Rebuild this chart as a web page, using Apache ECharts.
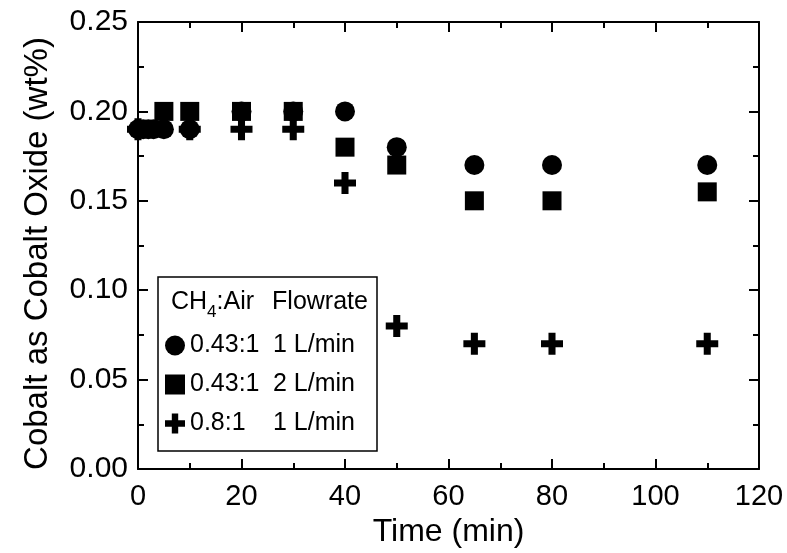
<!DOCTYPE html>
<html>
<head>
<meta charset="utf-8">
<script src="https://cdn.jsdelivr.net/npm/echarts@6/dist/echarts.min.js"></script>
<style>
  html, body { margin: 0; padding: 0; background: #fff; }
  #chart { width: 787px; height: 553px; }
</style>
</head>
<body>
<div id="chart"></div>
<script>
// data
const xTicks = [0, 20, 40, 60, 80, 100, 120];
const yTicks = ['0.00', '0.05', '0.10', '0.15', '0.20', '0.25'];

const timeLow = [0, 1, 2, 3, 5, 10, 20, 30, 40, 50, 65, 80, 110];
const cobaltLow = [0.19, 0.19, 0.19, 0.19, 0.19, 0.19, 0.20, 0.20, 0.20, 0.18, 0.17, 0.17, 0.17];

const timeHigh = [5, 10, 20, 30, 40, 50, 65, 80, 110];
const cobaltHigh = [0.20, 0.20, 0.20, 0.20, 0.18, 0.17, 0.15, 0.15, 0.155];

const timeRich = [0, 10, 20, 30, 40, 50, 65, 80, 110];
const cobaltRich = [0.19, 0.19, 0.19, 0.19, 0.16, 0.08, 0.07, 0.07, 0.07];

const seriesNames = ['0.43:1|1 L/min', '0.43:1|2 L/min', '0.8:1|1 L/min'];

const pair = (xs, ys) => xs.map((x, i) => [x, ys[i]]);

const font = 'Liberation Sans';
const crossPath = 'path://M3.4,0 H6.6 V3.4 H10 V6.6 H6.6 V10 H3.4 V6.6 H0 V3.4 H3.4 Z';

const chart = echarts.init(document.getElementById('chart'));

function axisBase(showLabel) {
    return {
        axisLine: { show: true, onZero: false, lineStyle: { color: '#000', width: 2 } },
        axisTick: { show: true, inside: true, length: 10, lineStyle: { color: '#000', width: 2 } },
        minorTick: { show: true, splitNumber: 2, length: 6, lineStyle: { color: '#000', width: 2 } },
        splitLine: { show: false },
        axisLabel: { show: showLabel, color: '#000', fontFamily: font, fontSize: 29 }
    };
}

chart.setOption({
    backgroundColor: '#fff',
    animation: false,
    grid: { left: 138, right: 28, top: 22, bottom: 84 },
    title: {
        text: '{a|CH}{s|4}{a|:Air}{b|Flowrate}',
        left: 166,
        top: 282,
        z: 20,
        textStyle: {
            fontWeight: 'normal',
            rich: {
                a: { fontFamily: font, fontSize: 25, fontWeight: 'normal', color: '#000', lineHeight: 28, verticalAlign: 'bottom' },
                s: { fontFamily: font, fontSize: 17, fontWeight: 'normal', color: '#000', lineHeight: 28, verticalAlign: 'bottom', padding: [0, 0, -6, 0] },
                b: { fontFamily: font, fontSize: 25, fontWeight: 'normal', color: '#000', lineHeight: 28, verticalAlign: 'bottom', padding: [0, 0, 0, 18] }
            }
        }
    },
    legend: {
        orient: 'vertical',
        left: 165,
        top: 333,
        padding: 0,
        z: 20,
        itemWidth: 20,
        itemHeight: 20,
        itemGap: 14,
        data: seriesNames,
        formatter: function (name) {
            const parts = name.split('|');
            return '{a|' + parts[0] + '}{b|' + parts[1] + '}';
        },
        textStyle: {
            rich: {
                a: { fontFamily: font, fontSize: 25, color: '#000', width: 83, lineHeight: 20 },
                b: { fontFamily: font, fontSize: 25, color: '#000', lineHeight: 20 }
            }
        }
    },
    graphic: [{
        type: 'rect',
        shape: { x: 158, y: 277, width: 219, height: 174 },
        style: { fill: '#fff', stroke: '#000', lineWidth: 1.5 },
        z: 1
    }],
    xAxis: [
        Object.assign(axisBase(true), {
            type: 'value', position: 'bottom', min: xTicks[0], max: xTicks[xTicks.length - 1], interval: 20,
            name: 'Time (min)', nameLocation: 'middle', nameGap: 47,
            nameTextStyle: { color: '#000', fontFamily: font, fontSize: 32 },
            axisLabel: { color: '#000', fontFamily: font, fontSize: 29, margin: 13 }
        }),
        Object.assign(axisBase(false), {
            type: 'value', position: 'top', min: xTicks[0], max: xTicks[xTicks.length - 1], interval: 20
        })
    ],
    yAxis: [
        Object.assign(axisBase(true), {
            type: 'value', position: 'left', min: 0, max: 0.25, interval: 0.05,
            name: 'Cobalt as Cobalt Oxide (wt%)', nameLocation: 'middle', nameGap: 84,
            nameTextStyle: { color: '#000', fontFamily: font, fontSize: 33, padding: [0, 16, 0, 0] },
            axisLabel: {
                color: '#000', fontFamily: font, fontSize: 30, margin: 10,
                formatter: (v) => yTicks[Math.round(v / 0.05)]
            }
        }),
        Object.assign(axisBase(false), {
            type: 'value', position: 'right', min: 0, max: 0.25, interval: 0.05
        })
    ],
    series: [
        {
            name: seriesNames[0],
            type: 'scatter',
            symbol: 'circle',
            symbolSize: 20,
            itemStyle: { color: '#000', opacity: 1 },
            data: pair(timeLow, cobaltLow)
        },
        {
            name: seriesNames[1],
            type: 'scatter',
            symbol: 'rect',
            symbolSize: 19,
            itemStyle: { color: '#000', opacity: 1 },
            data: pair(timeHigh, cobaltHigh)
        },
        {
            name: seriesNames[2],
            type: 'scatter',
            symbol: crossPath,
            symbolSize: 22,
            itemStyle: { color: '#000', opacity: 1 },
            data: pair(timeRich, cobaltRich)
        }
    ]
});
</script>
</body>
</html>
